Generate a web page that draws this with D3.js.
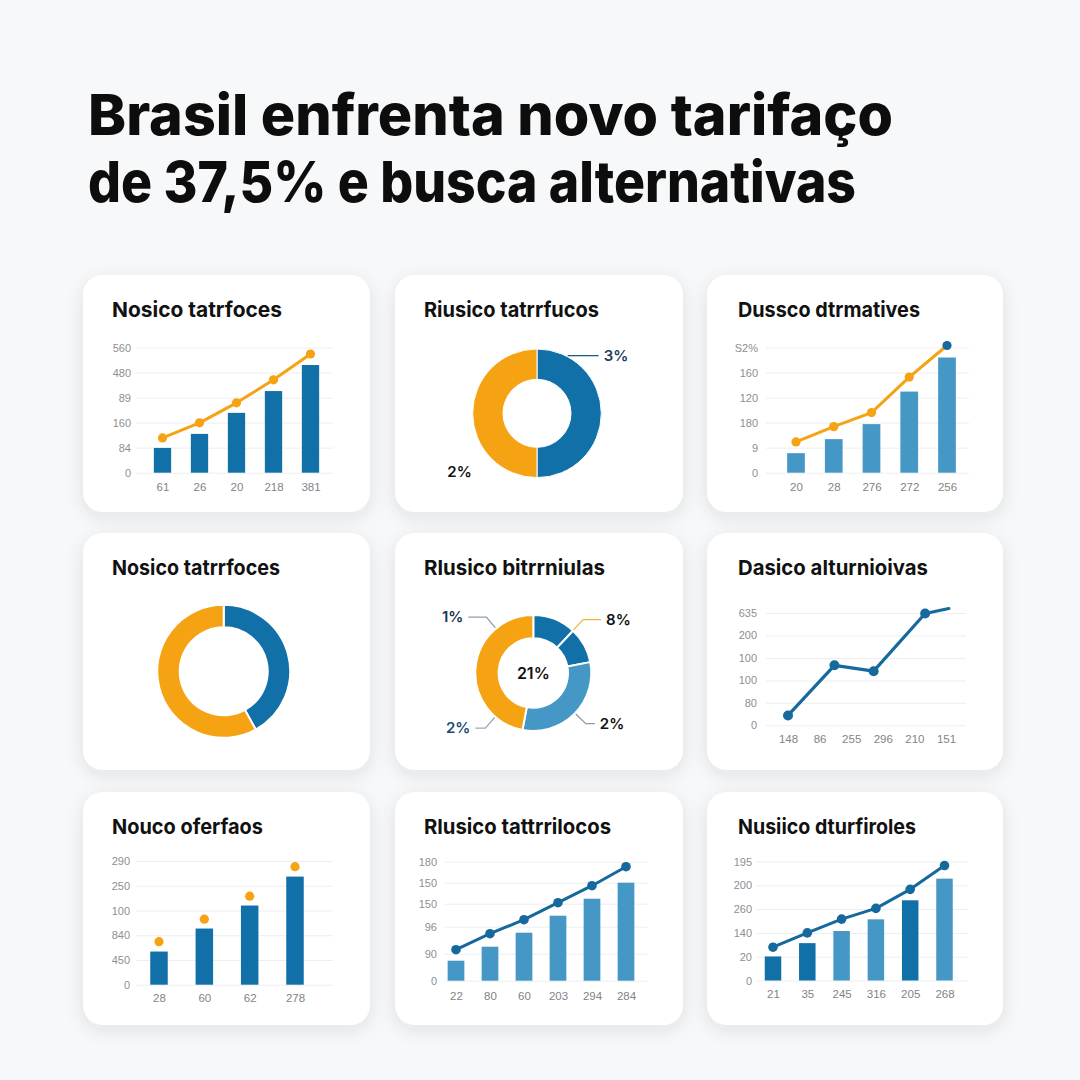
<!DOCTYPE html>
<html>
<head>
<meta charset="utf-8">
<script src="https://cdn.jsdelivr.net/npm/d3@7"></script>
<style>
  html, body { margin: 0; padding: 0; background: #f7f8fa; }
  svg { display: block; font-family: Inter, "Noto Sans", sans-serif; }
</style>
</head>
<body>
<div id="chart"></div>
<script>
// ---- data ----
const titleLines = ["Brasil enfrenta novo tarifaço", "de 37,5% e busca alternativas"];
const cardTitles = [
  "Nosico tatrfoces", "Riusico tatrrfucos", "Dussco dtrmatives",
  "Nosico tatrrfoces", "Rlusico bitrrniulas", "Dasico alturnioivas",
  "Nouco oferfaos", "Rlusico tattrrilocos", "Nusiico dturfiroles"
];

const p1XLabels = ["61", "26", "20", "218", "381"];
const p1YLabels = ["0", "84", "160", "89", "480", "560"];
const p1Bars = [99, 155, 239, 326, 430];
const p1Line = [139, 199, 279, 371, 474];

const p2Values = [50, 50];
const p2Labels = ["3%", "2%"];

const p3XLabels = ["20", "28", "276", "272", "256"];
const p3YLabels = ["0", "9", "180", "120", "160", "S2%"];
const p3Bars = [78, 134, 194, 324, 460];
const p3Line = [123, 184, 240, 382, 508];

const p4Values = [42, 58];

const p5Values = [12, 10, 31, 47];
const p5Labels = ["1%", "8%", "2%", "2%"];
const p5Center = "21%";

const p6XLabels = ["148", "86", "255", "296", "210", "151"];
const p6YLabels = ["0", "80", "100", "100", "200", "635"];
const p6X = [0, 1.47, 2.71, 4.34, 5.09];
const p6Line = [44, 267, 241, 498, 520];

const p7XLabels = ["28", "60", "62", "278"];
const p7YLabels = ["0", "450", "840", "100", "250", "290"];
const p7Bars = [134, 227, 320, 437];
const p7Dots = [174, 265, 358, 477];

const p8XLabels = ["22", "80", "60", "203", "294", "284"];
const p8YLabels = ["0", "90", "96", "150", "150", "180"];
const p8YTicks = [0, 27, 54, 77, 98, 119];
const p8Bars = [20, 34, 48, 65, 82, 98];
const p8Line = [31, 47, 61, 78, 95, 114];

const p9XLabels = ["21", "35", "245", "316", "205", "268"];
const p9YLabels = ["0", "20", "140", "260", "200", "195"];
const p9Bars = [101, 157, 208, 257, 337, 428];
const p9Line = [140, 200, 258, 303, 383, 483];

// ---- colours ----
const BLUE = "#1170a8";
const BLUE_LIGHT = "#4597c6";
const ORANGE = "#f5a312";
const LINE_BLUE = "#16699c";

// ---- layout ----
const cards = [
  { x: 83, y: 275, w: 287, h: 237, tw: 170 }, { x: 395, y: 275, w: 288, h: 237, tw: 175 }, { x: 707, y: 275, w: 296, h: 237, tw: 182 },
  { x: 83, y: 533, w: 287, h: 237, tw: 168 }, { x: 395, y: 533, w: 288, h: 237, tw: 181 }, { x: 707, y: 533, w: 296, h: 237, tw: 190 },
  { x: 83, y: 792, w: 287, h: 233, tw: 151 }, { x: 395, y: 792, w: 288, h: 233, tw: 187 }, { x: 707, y: 792, w: 296, h: 233, tw: 178 }
];

const svg = d3.select("#chart").append("svg")
  .attr("width", 1080)
  .attr("height", 1080);

const defs = svg.append("defs");
const shadow = defs.append("filter").attr("id", "shadow")
  .attr("x", "-20%").attr("y", "-20%").attr("width", "140%").attr("height", "140%");
shadow.append("feDropShadow")
  .attr("dx", 0).attr("dy", 5).attr("stdDeviation", 9)
  .attr("flood-color", "#1b2a40").attr("flood-opacity", 0.1);

svg.append("rect").attr("width", 1080).attr("height", 1080).attr("fill", "#f7f8fa");

// Main title
svg.selectAll(".main-title")
  .data(titleLines)
  .enter().append("text")
  .attr("class", "main-title")
  .attr("x", 88)
  .attr("y", (d, i) => 135 + i * 67)
  .attr("textLength", (d, i) => i === 0 ? 805 : 768)
  .attr("lengthAdjust", "spacingAndGlyphs")
  .style("font-size", "57px")
  .style("font-weight", 800)
  .style("fill", "#0d0d0d")
  .text(d => d);

// Cards
svg.selectAll(".card")
  .data(cards)
  .enter().append("rect")
  .attr("class", "card")
  .attr("x", d => d.x).attr("y", d => d.y)
  .attr("width", d => d.w).attr("height", d => d.h)
  .attr("rx", 20)
  .attr("fill", "#fff")
  .attr("filter", "url(#shadow)");

svg.selectAll(".card-title")
  .data(cards)
  .enter().append("text")
  .attr("class", "card-title")
  .attr("x", (d, i) => d.x + (i % 3 === 2 ? 31 : 29))
  .attr("y", d => d.y + 42)
  .attr("textLength", d => d.tw)
  .attr("lengthAdjust", "spacingAndGlyphs")
  .style("font-size", "20.5px")
  .style("font-weight", 700)
  .style("fill", "#111")
  .text((d, i) => cardTitles[i]);

// ---- bar / line combo ----
function comboChart(o) {
  const g = svg.append("g");
  const n = o.xLabels.length;
  const y = d3.scaleLinear().domain(o.yDomain).range([o.y0, o.y1]);
  const x = d3.scaleLinear().domain([0, n - 1]).range([o.xa, o.xb]);

  // grid + y labels
  const yAxis = g.append("g")
    .attr("transform", `translate(${o.gx0},0)`)
    .call(d3.axisLeft(y)
      .tickValues(o.yTicks)
      .tickSize(-(o.gx1 - o.gx0))
      .tickPadding(o.gx0 - o.labelX)
      .tickFormat((d, i) => o.yLabels[i]));
  yAxis.select(".domain").remove();
  yAxis.selectAll("line").style("stroke", "#eceef1").style("stroke-width", 1);
  yAxis.selectAll("text").style("font-size", "11px").style("fill", "#8c8f93");

  // x labels
  const xAxis = g.append("g")
    .attr("transform", `translate(0,${o.xLabelY})`)
    .call(d3.axisBottom(x)
      .tickValues(d3.range(n))
      .tickSize(0)
      .tickPadding(0)
      .tickFormat(i => o.xLabels[i]));
  xAxis.select(".domain").remove();
  xAxis.selectAll("text").attr("dy", "0.35em").style("font-size", "11.5px").style("fill", "#808489");

  if (o.bars) {
    g.selectAll(".bar")
      .data(o.bars)
      .enter().append("rect")
      .attr("class", "bar")
      .attr("x", (d, i) => x(i) - o.bw / 2)
      .attr("y", d => y(d))
      .attr("width", o.bw)
      .attr("height", d => y(0) - y(d))
      .attr("fill", (d, i) => o.barColors ? o.barColors[i] : o.barColor);
  }

  const lx = o.lineX || d3.range(o.points.length);
  if (o.drawLine) {
    const line = d3.line().x((d, i) => x(lx[i])).y(d => y(d));
    g.append("path")
      .datum(o.points)
      .attr("d", line)
      .attr("fill", "none")
      .attr("stroke", o.lineColor)
      .attr("stroke-width", o.lineWidth || 3)
      .attr("stroke-linejoin", "round")
      .attr("stroke-linecap", "round");
  }
  g.selectAll(".dot")
    .data(o.points.slice(0, o.dotCount || o.points.length))
    .enter().append("circle")
    .attr("class", "dot")
    .attr("cx", (d, i) => x(lx[i]))
    .attr("cy", d => y(d))
    .attr("r", o.r || 4.6)
    .attr("fill", (d, i) => o.dotColors ? o.dotColors[i] : o.lineColor);
}

// ---- donut ----
function polar(cx, cy, r, deg) {
  const a = deg * Math.PI / 180;
  return [cx + r * Math.sin(a), cy - r * Math.cos(a)];
}

function donut(o) {
  const g = svg.append("g").attr("transform", `translate(${o.cx},${o.cy})`);
  const pie = d3.pie().sort(null).value(d => d);
  const arc = d3.arc().innerRadius(o.ri).outerRadius(o.ro);
  g.selectAll("path")
    .data(pie(o.values))
    .enter().append("path")
    .attr("d", arc)
    .attr("fill", (d, i) => o.colors[i])
    .attr("stroke", "#fff")
    .attr("stroke-width", o.gap || 1.5);
}

function leaderLabel(o, L) {
  const p0 = polar(o.cx, o.cy, o.ro + 1, L.a);
  const p1 = polar(o.cx, o.cy, o.ro + (L.elbow == null ? 15 : L.elbow), L.a);
  const p2 = [p1[0] + L.side * L.h, p1[1]];
  svg.append("path")
    .attr("d", d3.line()([p0, p1, p2]))
    .attr("fill", "none")
    .attr("stroke", L.stroke)
    .attr("stroke-width", 1.3);
  svg.append("text")
    .attr("x", p2[0] + L.side * 5)
    .attr("y", p2[1])
    .attr("dy", "0.35em")
    .attr("text-anchor", L.side > 0 ? "start" : "end")
    .style("font-size", "15px")
    .style("font-weight", 600)
    .style("fill", L.color)
    .text(L.text);
}

// Panel 1
comboChart({
  xLabels: p1XLabels, yLabels: p1YLabels, yTicks: [0, 100, 200, 300, 400, 500],
  yDomain: [0, 500], y0: 472.7, y1: 347.5,
  xa: 162.5, xb: 310.5, gx0: 136, gx1: 333, labelX: 131, xLabelY: 486.5,
  bars: p1Bars, bw: 17.3, barColor: BLUE,
  points: p1Line, drawLine: true, lineColor: ORANGE, lineWidth: 3
});

// Panel 2
const p2 = { cx: 537, cy: 413.3, ri: 34, ro: 64.3 };
donut(Object.assign({ values: p2Values, colors: [BLUE, ORANGE], gap: 1 }, p2));
leaderLabel(p2, { text: p2Labels[0], a: 28, elbow: 1, side: 1, h: 31, stroke: "#1f5d8a", color: "#1c3d5c" });
const p2b = polar(p2.cx, p2.cy, 97, 233);
svg.append("text")
  .attr("x", p2b[0]).attr("y", p2b[1]).attr("dy", "0.35em")
  .attr("text-anchor", "middle")
  .style("font-size", "15px").style("font-weight", 600).style("fill", "#111")
  .text(p2Labels[1]);

// Panel 3
comboChart({
  xLabels: p3XLabels, yLabels: p3YLabels, yTicks: [0, 100, 200, 300, 400, 500],
  yDomain: [0, 500], y0: 472.7, y1: 347.5,
  xa: 796, xb: 947, gx0: 766, gx1: 969, labelX: 758, xLabelY: 487,
  bars: p3Bars, bw: 17.7, barColor: BLUE_LIGHT,
  points: p3Line, drawLine: true, lineColor: ORANGE, lineWidth: 3,
  dotColors: [ORANGE, ORANGE, ORANGE, ORANGE, LINE_BLUE]
});

// Panel 4
donut({ values: p4Values, colors: [BLUE, ORANGE], cx: 223.7, cy: 671.3, ri: 44, ro: 66.5, gap: 2 });

// Panel 5
const p5 = { cx: 533.3, cy: 673, ri: 34.7, ro: 58 };
donut(Object.assign({ values: p5Values, colors: [BLUE, BLUE, BLUE_LIGHT, ORANGE], gap: 2 }, p5));
[
  { a: -40, side: -1, h: 18, stroke: "#8d9db0", color: "#1c3550" },
  { a: 43, side: 1, h: 18, stroke: "#f1b33d", color: "#111" },
  { a: 221, side: -1, h: 10, stroke: "#9aa7b6", color: "#1d4c72" },
  { a: 134, side: 1, h: 9, stroke: "#8f9aa6", color: "#111" }
].forEach((L, i) => leaderLabel(p5, Object.assign({ text: p5Labels[i] }, L)));
svg.append("text")
  .attr("x", p5.cx).attr("y", p5.cy).attr("dy", "0.35em")
  .attr("text-anchor", "middle")
  .style("font-size", "16px").style("font-weight", 600).style("fill", "#111")
  .text(p5Center);

// Panel 6
comboChart({
  xLabels: p6XLabels, yLabels: p6YLabels, yTicks: [0, 100, 200, 300, 400, 500],
  yDomain: [0, 500], y0: 725.3, y1: 613,
  xa: 788, xb: 946, gx0: 766, gx1: 966, labelX: 757, xLabelY: 739,
  points: p6Line, lineX: p6X, drawLine: true, lineColor: LINE_BLUE, lineWidth: 3.2,
  dotCount: 4, r: 5
});

// Panel 7
comboChart({
  xLabels: p7XLabels, yLabels: p7YLabels, yTicks: [0, 100, 200, 300, 400, 500],
  yDomain: [0, 500], y0: 984.7, y1: 861,
  xa: 159, xb: 295, gx0: 136, gx1: 333, labelX: 130, xLabelY: 997.5,
  bars: p7Bars, bw: 17.5, barColor: BLUE,
  points: p7Dots, drawLine: false, lineColor: ORANGE, r: 4.6
});

// Panel 8
comboChart({
  xLabels: p8XLabels, yLabels: p8YLabels, yTicks: p8YTicks,
  yDomain: [0, 120], y0: 980.7, y1: 860.7,
  xa: 456, xb: 626, gx0: 445, gx1: 647, labelX: 437, xLabelY: 996,
  bars: p8Bars, bw: 16.7, barColor: BLUE_LIGHT,
  points: p8Line, drawLine: true, lineColor: LINE_BLUE, lineWidth: 3, r: 4.8
});

// Panel 9
comboChart({
  xLabels: p9XLabels, yLabels: p9YLabels, yTicks: [0, 100, 200, 300, 400, 500],
  yDomain: [0, 500], y0: 980.5, y1: 861.5,
  xa: 773, xb: 944.5, gx0: 756, gx1: 968, labelX: 752, xLabelY: 994,
  bars: p9Bars, bw: 16.5, barColors: [BLUE, BLUE, BLUE_LIGHT, BLUE_LIGHT, BLUE, BLUE_LIGHT],
  points: p9Line, drawLine: true, lineColor: LINE_BLUE, lineWidth: 3, r: 4.8
});
</script>
</body>
</html>
